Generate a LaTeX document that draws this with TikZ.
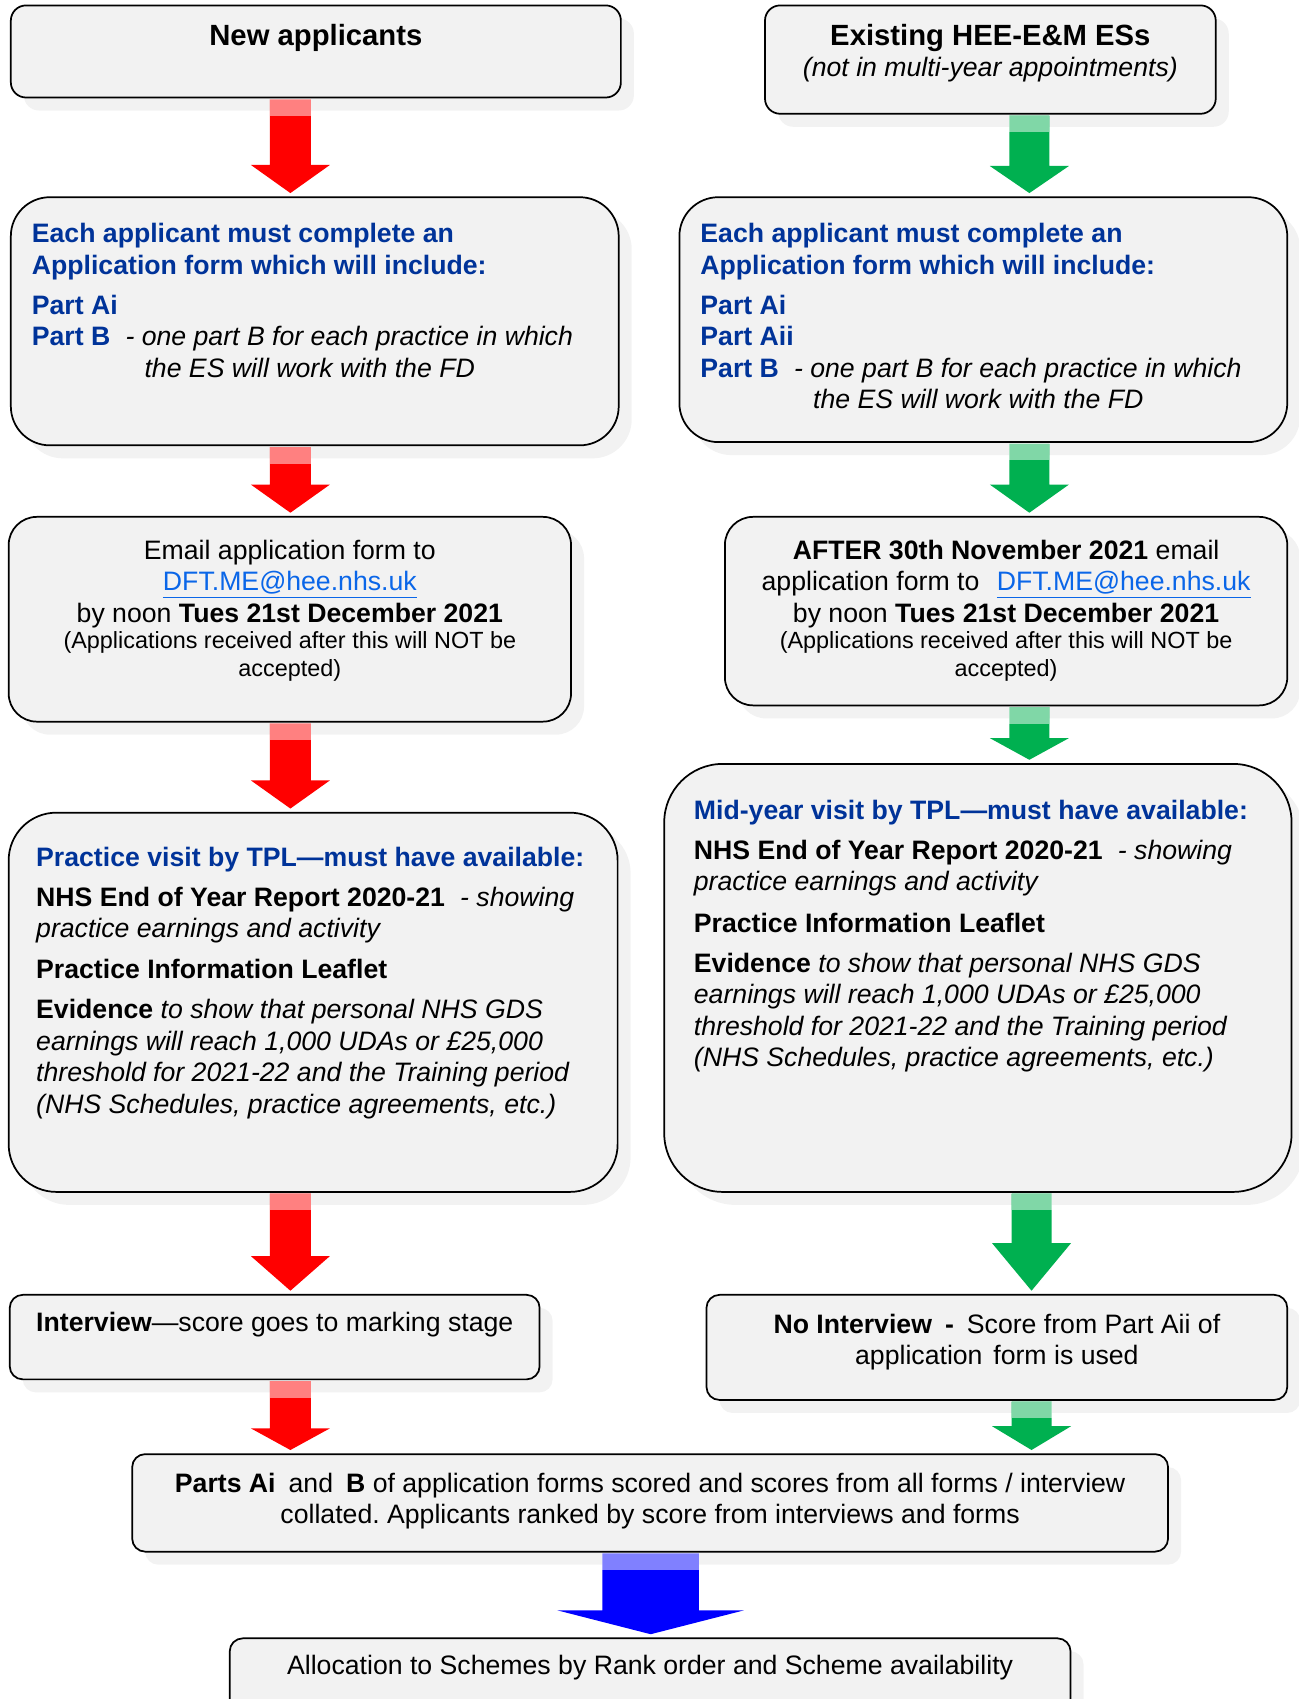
\documentclass[tikz,border=0pt]{standalone}
\usepackage{fontspec}
\setmainfont{Liberation Sans}
\usetikzlibrary{fit,shadows,calc}
\definecolor{boxgray}{HTML}{F2F2F2}
\definecolor{hblue}{HTML}{003399}
\definecolor{lnkblue}{HTML}{0A66E8}
\definecolor{agreen}{HTML}{00B050}
\definecolor{ablue}{HTML}{0000FF}
\definecolor{ared}{HTML}{FF0000}
\newcommand\hb[1]{{\color{hblue}\bfseries #1}}
\newcommand\lnk[1]{{\color{lnkblue}\underline{#1}}}
% #1 from node, #2 to node, #3 x centre (px), #4 half shaft (pt), #5 half head (pt), #6 head length (pt), #7 colour, #8 light part (pt)
\newcommand\blockarrow[8]{%
  \fill[#7] let \p1=(#3,0), \p2=(#1.south), \p3=(#2.north) in
    (\x1-#4,\y2-0.4pt) -- (\x1+#4,\y2-0.4pt) -- (\x1+#4,\y3+1.5pt+#6) -- (\x1+#5,\y3+1.5pt+#6)
    -- (\x1,\y3+1.5pt) -- (\x1-#5,\y3+1.5pt+#6) -- (\x1-#4,\y3+1.5pt+#6) -- cycle;
  \fill[white,opacity=0.5] let \p1=(#3,0), \p2=(#1.south) in
    (\x1-#4,\y2-0.4pt) rectangle (\x1+#4,\y2-#8);
}
\frenchspacing
\begin{document}
\begin{tikzpicture}[x=0.5pt,y=-0.5pt,
  box/.style={draw=black, line width=0.8pt, fill=boxgray, inner sep=0pt,
    drop shadow={shadow xshift=6pt, shadow yshift=-6pt, fill=black, opacity=0.05}},
  txt/.style={inner sep=0pt, font=\fontsize{12.3}{14.5}\selectfont},
  ttl/.style={inner sep=0pt, font=\fontsize{13.5}{16}\selectfont\bfseries},
  small/.style={inner sep=0pt, font=\fontsize{10.8}{13}\selectfont, align=center, anchor=north}]
\fill[white] (0,0) rectangle (1198,1568);
\useasboundingbox (0,0) rectangle (1198,1568);

% boxes
\node[box, rounded corners=7pt, fit={(10,5) (573,90)}] (a1) {};
\node[box, rounded corners=7pt, fit={(706,5) (1122,105)}] (b1) {};
\node[box, rounded corners=18pt, fit={(10,182) (571,411)}] (a2) {};
\node[box, rounded corners=18pt, fit={(627,182) (1188,408)}] (b2) {};
\node[box, rounded corners=13pt, fit={(8,477) (527,666)}] (a3) {};
\node[box, rounded corners=13pt, fit={(669,477) (1188,651)}] (b3) {};
\node[box, rounded corners=22pt, fit={(8,750) (570,1100)}] (a4) {};
\node[box, rounded corners=27pt, fit={(613,705) (1192,1100)}] (b4) {};
\node[box, rounded corners=6pt, fit={(9,1195) (498,1273)}] (a5) {};
\node[box, rounded corners=6pt, fit={(652,1195) (1188,1292)}] (b5) {};
\node[box, rounded corners=6pt, fit={(122,1342) (1078,1432)}] (c) {};
\node[box, rounded corners=6pt, fit={(212,1512) (988,1595)}] (d) {};

% arrows
\blockarrow{a1}{a2}{268}{9.5pt}{18.25pt}{13pt}{ared}{8pt}
\blockarrow{a2}{a3}{268}{9.5pt}{18.25pt}{13pt}{ared}{8pt}
\blockarrow{a3}{a4}{268}{9.5pt}{18.25pt}{13pt}{ared}{8pt}
\blockarrow{a4}{a5}{268}{9.5pt}{18.25pt}{16pt}{ared}{8pt}
\blockarrow{a5}{c}{268}{9.5pt}{18.25pt}{10pt}{ared}{8pt}
\blockarrow{b1}{b2}{950}{9.25pt}{18.25pt}{12.5pt}{agreen}{8pt}
\blockarrow{b2}{b3}{950}{9.25pt}{18.25pt}{13pt}{agreen}{8pt}
\blockarrow{b3}{b4}{950}{9.25pt}{18.25pt}{10pt}{agreen}{8pt}
\blockarrow{b4}{b5}{952}{9.25pt}{18.25pt}{22pt}{agreen}{8pt}
\blockarrow{b5}{c}{952}{9.25pt}{18.25pt}{11pt}{agreen}{8pt}
\blockarrow{c}{d}{600.5}{22.25pt}{43pt}{11pt}{ablue}{8pt}

% texts
\node[ttl, anchor=base] (a1t) at (291.5,42) {New applicants};
\node[ttl, anchor=base] (b1t) at (914,42) {Existing HEE-E\&M ESs};
\node[txt, anchor=base] (b1s) at (914,71) {\itshape (not in multi-year appointments)};

\node[txt, align=left, anchor=north west] (a2t) at (29,206) {%
\hb{Each applicant must complete an}\\
\hb{Application form which will include:}\\[4pt]
\hb{Part Ai}\\
\hb{Part B}\hspace{7pt}\textit{- one part B for each practice in which}\\
\hspace*{52pt}\textit{the ES will work with the FD}};

\node[txt, align=left, anchor=north west] (b2t) at (646,206) {%
\hb{Each applicant must complete an}\\
\hb{Application form which will include:}\\[4pt]
\hb{Part Ai}\\
\hb{Part Aii}\\
\hb{Part B}\hspace{7pt}\textit{- one part B for each practice in which}\\
\hspace*{52pt}\textit{the ES will work with the FD}};

\node[txt, align=center, anchor=north] (a3t) at (267.5,498) {%
Email application form to\\
\lnk{DFT.ME@hee.nhs.uk}\\
by noon \textbf{Tues 21st December 2021}};
\node[small] (a3s) at (267.5,582) {(Applications received after this will NOT be\\ accepted)};

\node[txt, align=center, anchor=north] (b3t) at (928.5,498) {%
\textbf{AFTER 30th November 2021} email\\
application form to\hspace{8pt}\lnk{DFT.ME@hee.nhs.uk}\\
by noon \textbf{Tues 21st December 2021}};
\node[small] (b3s) at (928.5,582) {(Applications received after this will NOT be\\ accepted)};

\node[txt, align=left, anchor=north west] (a4t) at (33,781) {%
\hb{Practice visit by TPL—must have available:}\\[4pt]
\textbf{NHS End of Year Report 2020-21}\hspace{7pt}\textit{- showing}\\
\textit{practice earnings and activity}\\[4.5pt]
\textbf{Practice Information Leaflet}\\[4pt]
\textbf{Evidence} \textit{to show that personal NHS GDS}\\
\textit{earnings will reach 1,000 UDAs or £25,000}\\
\textit{threshold for 2021-22 and the Training period}\\
\textit{(NHS Schedules, practice agreements, etc.)}};

\node[txt, align=left, anchor=north west] (b4t) at (640,738) {%
\hb{Mid-year visit by TPL—must have available:}\\[4pt]
\textbf{NHS End of Year Report 2020-21}\hspace{7pt}\textit{- showing}\\
\textit{practice earnings and activity}\\[4.5pt]
\textbf{Practice Information Leaflet}\\[4pt]
\textbf{Evidence} \textit{to show that personal NHS GDS}\\
\textit{earnings will reach 1,000 UDAs or £25,000}\\
\textit{threshold for 2021-22 and the Training period}\\
\textit{(NHS Schedules, practice agreements, etc.)}};

\node[txt, anchor=base west] (a5t) at (33,1229) {\textbf{Interview}—score goes to marking stage};

\node[txt, align=center, anchor=north] (b5t) at (920,1212) {%
\textbf{No Interview\hspace{6pt}-}\hspace{6pt}Score from Part Aii of\\
application\hspace{5pt}form is used};

\node[txt, align=center, anchor=north] (ct) at (600,1359) {%
\textbf{Parts Ai}\hspace{6pt}and\hspace{6pt}\textbf{B} of application forms scored and scores from all forms / interview\\
collated. Applicants ranked by score from interviews and forms};

\node[txt, anchor=base] (dt) at (600,1545) {Allocation to Schemes by Rank order and Scheme availability};
\end{tikzpicture}
\end{document}
